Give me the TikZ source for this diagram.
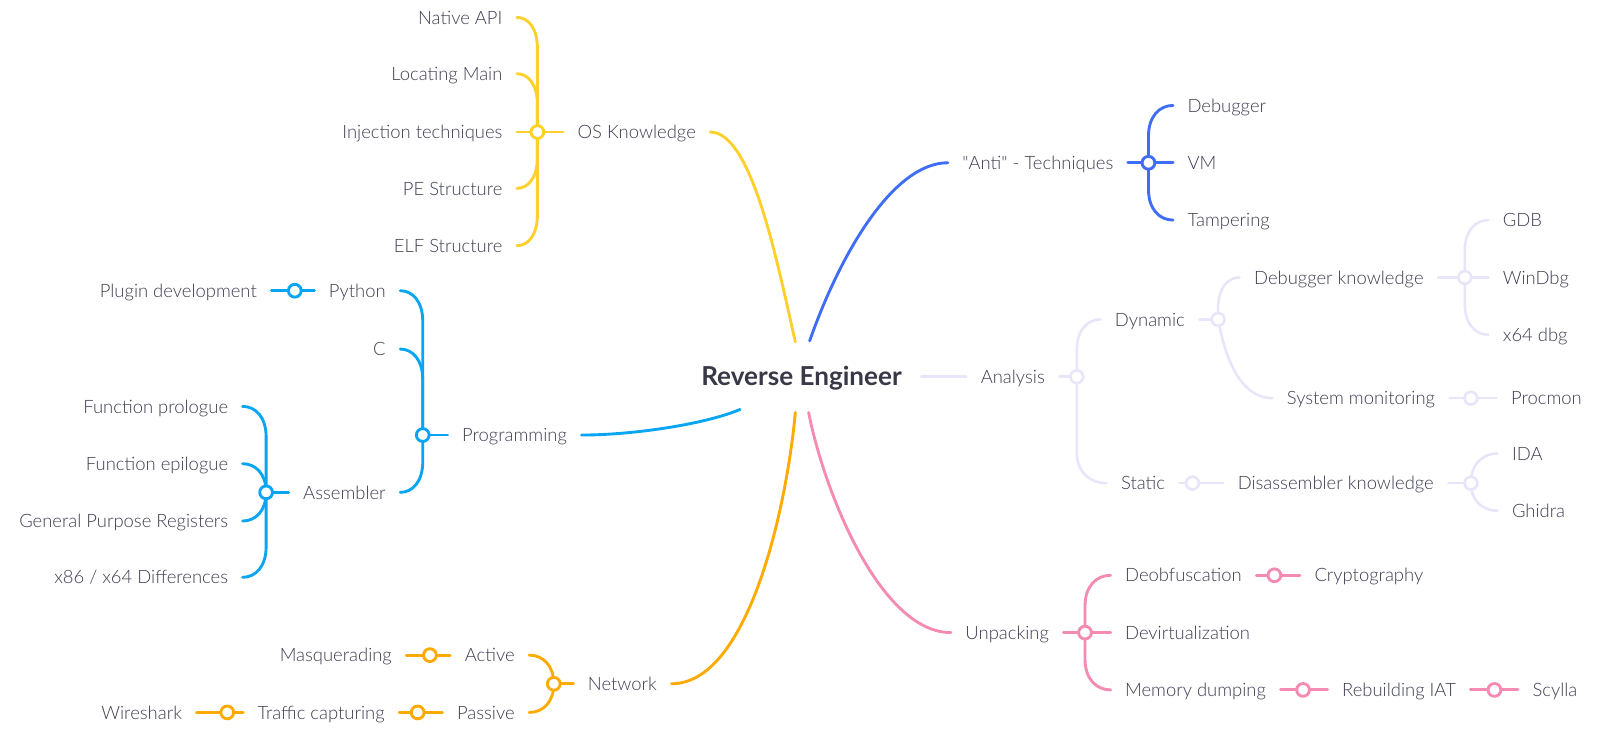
\documentclass[tikz,border=0pt]{standalone}
\usepackage{fontspec}
\IfFontExistsTF{Lato Light}{\setmainfont{Lato Light}[BoldFont=Lato Bold]}{\setmainfont{Lato}}
\usetikzlibrary{calc}
\definecolor{cOS}{HTML}{FFD02B}
\definecolor{cAnti}{HTML}{3F6DF5}
\definecolor{cProg}{HTML}{08A6F2}
\definecolor{cAn}{HTML}{E8E5FA}
\definecolor{cUn}{HTML}{F58BB2}
\definecolor{cNet}{HTML}{FFAA00}
\definecolor{txt}{HTML}{3E3E52}
\definecolor{rootc}{HTML}{383846}
\pgfdeclarelayer{bg}
\pgfsetlayers{bg,main}
\begin{document}
\begin{tikzpicture}[x=1pt,y=-1pt,
  lbl/.style={font=\fontsize{18}{20}\selectfont, text=txt, inner xsep=14pt, inner ysep=0pt, text height=13pt, text depth=0pt},
  jn/.style={circle, draw=#1, fill=white, line width=2.8pt, minimum size=12.5pt, inner sep=0pt},
  ln/.style={draw=#1, line width=2.8pt, line cap=round},
  lnl/.style={draw=cAn, line width=2.5pt, line cap=round},
  br/.style={to path={let \p1=(\tikztostart), \p2=(\tikztotarget),
     \n1={min(#1,abs(\y1-\y2))*ifthenelse(\y1<\y2,-1,1)} in
     -- (\x1,\y2+\n1) .. controls (\x1,\y2+0.35*\n1) and ({\x1+0.45*(\x2-\x1)},\y2) .. (\p2)}},
  br/.default=30]
\useasboundingbox (0,0) rectangle (1568,716);

% root
\node[font=\fontsize{25.5}{30}\selectfont\bfseries, text=rootc, text height=18pt, text depth=0pt, inner sep=0pt] (root) at (783,368) {Reverse Engineer};
\coordinate (rY) at (777,334);
\coordinate (rB) at (791,333);
\coordinate (rP) at (723,400);
\coordinate (rA) at (900,368);
\coordinate (rU) at (790,403);
\coordinate (rN) at (777,403);

% ---------- OS Knowledge ----------
\node[lbl, anchor=east] (os) at (694,129) {OS Knowledge};
\node[jn=cOS] (cos) at (525,129) {};
\node[lbl, anchor=east] (nat) at (505,17) {Native API};
\node[lbl, anchor=east] (loc) at (505,72) {Locating Main};
\node[lbl, anchor=east] (inj) at (505,129) {Injection techniques};
\node[lbl, anchor=east] (pe) at (505,184) {PE Structure};
\node[lbl, anchor=east] (elf) at (505,240) {ELF Structure};

% ---------- Anti ----------
\node[lbl, anchor=west] (anti) at (926,159) {\textquotedbl Anti\textquotedbl{} - Techniques};
\node[jn=cAnti] (canti) at (1122,159) {};
\node[lbl, anchor=west] (dbg) at (1146,103) {Debugger};
\node[lbl, anchor=west] (vm) at (1146,159) {VM};
\node[lbl, anchor=west] (tam) at (1146,215) {Tampering};

% ---------- Programming ----------
\node[lbl, anchor=east] (prog) at (568,425) {Programming};
\node[jn=cProg] (cprog) at (413,425) {};
\node[lbl, anchor=east] (py) at (391,284) {Python};
\node[lbl, anchor=east] (cl) at (391,341) {C};
\node[lbl, anchor=east] (asm) at (391,481) {Assembler};
\node[jn=cProg] (cpy) at (288,284) {};
\node[lbl, anchor=east] (plug) at (265,284) {Plugin development};
\node[jn=cProg] (casm) at (260,481) {};
\node[lbl, anchor=east] (fpro) at (237,397) {Function prologue};
\node[lbl, anchor=east] (fepi) at (237,453) {Function epilogue};
\node[lbl, anchor=east] (gpr) at (237,509) {General Purpose Registers};
\node[lbl, anchor=east] (x86) at (237,564) {x86 / x64 Differences};

% ---------- Analysis ----------
\node[lbl, anchor=west] (ana) at (944,368) {Analysis};
\node[jn=cAn, line width=2.5pt] (cana) at (1052,368) {};
\node[lbl, anchor=west] (dyn) at (1075,312) {Dynamic};
\node[lbl, anchor=west] (sta) at (1081,472) {Static};
\node[jn=cAn, line width=2.5pt] (cdyn) at (1190,312) {};
\node[lbl, anchor=west] (debk) at (1211,271) {Debugger knowledge};
\node[lbl, anchor=west] (sysm) at (1243,389) {System monitoring};
\node[jn=cAn, line width=2.5pt] (cdebk) at (1431,271) {};
\node[lbl, anchor=west] (gdb) at (1454,215) {GDB};
\node[lbl, anchor=west] (wdbg) at (1454,271) {WinDbg};
\node[lbl, anchor=west] (x64) at (1454,327) {x64 dbg};
\node[jn=cAn, line width=2.5pt] (csys) at (1437,389) {};
\node[lbl, anchor=west] (procm) at (1462,389) {Procmon};
\node[jn=cAn, line width=2.5pt] (csta) at (1165,472) {};
\node[lbl, anchor=west] (disk) at (1195,472) {Disassembler knowledge};
\node[jn=cAn, line width=2.5pt] (cdisk) at (1437,472) {};
\node[lbl, anchor=west] (ida) at (1463,443) {IDA};
\node[lbl, anchor=west] (ghi) at (1463,499) {Ghidra};

% ---------- Unpacking ----------
\node[lbl, anchor=west] (unp) at (929,618) {Unpacking};
\node[jn=cUn] (cunp) at (1060,618) {};
\node[lbl, anchor=west] (deob) at (1085,562) {Deobfuscation};
\node[lbl, anchor=west] (devi) at (1085,618) {Devirtualization};
\node[lbl, anchor=west] (memd) at (1085,674) {Memory dumping};
\node[jn=cUn] (cdeob) at (1245,562) {};
\node[lbl, anchor=west] (cryp) at (1270,562) {Cryptography};
\node[jn=cUn] (cmemd) at (1273,674) {};
\node[lbl, anchor=west] (reb) at (1297,674) {Rebuilding IAT};
\node[jn=cUn] (creb) at (1460,674) {};
\node[lbl, anchor=west] (scy) at (1483,674) {Scylla};

% ---------- Network ----------
\node[lbl, anchor=east] (net) at (656,668) {Network};
\node[jn=cNet] (cnet) at (541,668) {};
\node[lbl, anchor=east] (act) at (517,640) {Active};
\node[lbl, anchor=east] (pas) at (517,696) {Passive};
\node[jn=cNet] (cact) at (420,640) {};
\node[lbl, anchor=east] (masq) at (397,640) {Masquerading};
\node[jn=cNet] (cpas) at (408,696) {};
\node[lbl, anchor=east] (traf) at (390,696) {Traffic capturing};
\node[jn=cNet] (ctraf) at (222,696) {};
\node[lbl, anchor=east] (wire) at (192,696) {Wireshark};

\begin{pgfonlayer}{bg}
\fill[white] (0,0) rectangle (1568,716);
% main branches
\draw[ln=cOS] (rY) .. controls (760,260) and (735,129) .. (os.east);
\draw[ln=cAnti] (rB) .. controls (820,250) and (872,159) .. (anti.west);
\draw[ln=cProg] (rP) .. controls (690,414) and (620,425) .. (prog.east);
\draw[lnl] (rA) -- (ana.west);
\draw[ln=cUn] (rU) .. controls (805,480) and (860,618) .. (unp.west);
\draw[ln=cNet] (rN) .. controls (768,500) and (730,668) .. (net.east);

% OS
\draw[ln=cOS] (os.west) -- (cos.center);
\draw[ln=cOS] (cos.center) to[br] (nat.east);
\draw[ln=cOS] (cos.center) to[br] (loc.east);
\draw[ln=cOS] (cos.center) -- (inj.east);
\draw[ln=cOS] (cos.center) to[br] (pe.east);
\draw[ln=cOS] (cos.center) to[br] (elf.east);

% Anti
\draw[ln=cAnti] (anti.east) -- (canti.center);
\draw[ln=cAnti] (canti.center) to[br] (dbg.west);
\draw[ln=cAnti] (canti.center) -- (vm.west);
\draw[ln=cAnti] (canti.center) to[br] (tam.west);

% Programming
\draw[ln=cProg] (prog.west) -- (cprog.center);
\draw[ln=cProg] (cprog.center) to[br] (py.east);
\draw[ln=cProg] (cprog.center) to[br] (cl.east);
\draw[ln=cProg] (cprog.center) to[br] (asm.east);
\draw[ln=cProg] (py.west) -- (cpy.center) -- (plug.east);
\draw[ln=cProg] (asm.west) -- (casm.center);
\draw[ln=cProg] (casm.center) to[br] (fpro.east);
\draw[ln=cProg] (casm.center) to[br] (fepi.east);
\draw[ln=cProg] (casm.center) to[br] (gpr.east);
\draw[ln=cProg] (casm.center) to[br] (x86.east);

% Analysis
\draw[lnl] (ana.east) -- (cana.center);
\draw[lnl] (cana.center) to[br] (dyn.west);
\draw[lnl] (cana.center) to[br] (sta.west);
\draw[lnl] (dyn.east) -- (cdyn.center);
\draw[lnl] (cdyn.center) to[br] (debk.west);
\draw[lnl] (cdyn.center) .. controls (1196,345) and (1210,389) .. (sysm.west);
\draw[lnl] (debk.east) -- (cdebk.center);
\draw[lnl] (cdebk.center) to[br] (gdb.west);
\draw[lnl] (cdebk.center) -- (wdbg.west);
\draw[lnl] (cdebk.center) to[br] (x64.west);
\draw[lnl] (sysm.east) -- (csys.center) -- (procm.west);
\draw[lnl] (sta.east) -- (csta.center) -- (disk.west);
\draw[lnl] (disk.east) -- (cdisk.center);
\draw[lnl] (cdisk.center) to[br] (ida.west);
\draw[lnl] (cdisk.center) to[br] (ghi.west);

% Unpacking
\draw[ln=cUn] (unp.east) -- (cunp.center);
\draw[ln=cUn] (cunp.center) to[br] (deob.west);
\draw[ln=cUn] (cunp.center) -- (devi.west);
\draw[ln=cUn] (cunp.center) to[br] (memd.west);
\draw[ln=cUn] (deob.east) -- (cdeob.center) -- (cryp.west);
\draw[ln=cUn] (memd.east) -- (cmemd.center) -- (reb.west);
\draw[ln=cUn] (reb.east) -- (creb.center) -- (scy.west);

% Network
\draw[ln=cNet] (net.west) -- (cnet.center);
\draw[ln=cNet] (cnet.center) to[br] (act.east);
\draw[ln=cNet] (cnet.center) to[br] (pas.east);
\draw[ln=cNet] (act.west) -- (cact.center) -- (masq.east);
\draw[ln=cNet] (pas.west) -- (cpas.center) -- (traf.east);
\draw[ln=cNet] (traf.west) -- (ctraf.center) -- (wire.east);
\end{pgfonlayer}
\end{tikzpicture}
\end{document}
